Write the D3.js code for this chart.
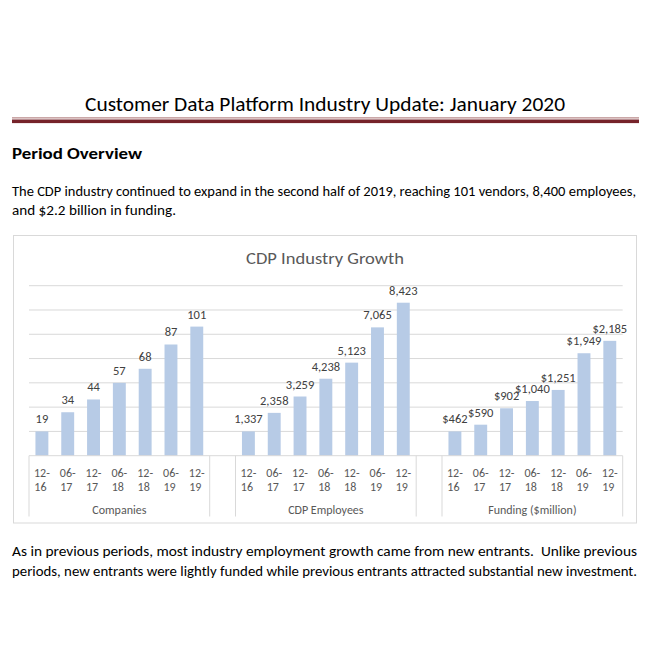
<!DOCTYPE html>
<html>
<head>
<meta charset="utf-8">
<script src="https://cdn.jsdelivr.net/npm/d3@7"></script>
<style>
  body { margin: 0; background: #fff; }
  svg { display: block; font-family: Carlito, Calibri, Lato, sans-serif; }
</style>
</head>
<body>
<figure style="margin:0"></figure>
<script>
// chart data
const groups = ["Companies", "CDP Employees", "Funding ($million)"];
const periods = ["12-16", "06-17", "12-17", "06-18", "12-18", "06-19", "12-19"];
const companies = [19, 34, 44, 57, 68, 87, 101];
const employees = [1337, 2358, 3259, 4238, 5123, 7065, 8423];
const funding = [462, 590, 902, 1040, 1251, 1949, 2185];
const gridTicks = [1, 2, 3, 4, 5, 6, 7];

// page text
const pageTitle = "Customer Data Platform Industry Update: January 2020";
const sectionTitle = "Period Overview";
const introLines = [
    "The CDP industry continued to expand in the second half of 2019, reaching 101 vendors, 8,400 employees,",
    "and $2.2 billion in funding."
];
const outroLines = [
    "As in previous periods, most industry employment growth came from new entrants.  Unlike previous",
    "periods, new entrants were lightly funded while previous entrants attracted substantial new investment."
];
const chartTitle = "CDP Industry Growth";

const width = 662, height = 662;

const svg = d3.select("figure")
    .append("svg")
    .attr("width", width)
    .attr("height", height)
    .attr("viewBox", "0 0 " + width + " " + height);

// ---- page heading and rules
svg.append("text")
    .attr("x", 85).attr("y", 110.5)
    .attr("textLength", 480).attr("lengthAdjust", "spacingAndGlyphs")
    .style("font-size", "20px")
    .attr("fill", "#000")
    .text(pageTitle);

svg.append("line")
    .attr("x1", 12).attr("x2", 639).attr("y1", 117.8).attr("y2", 117.8)
    .attr("stroke", "#b98a8a").attr("stroke-width", 1.2);
svg.append("rect")
    .attr("x", 12).attr("y", 119.5).attr("width", 627).attr("height", 3.6)
    .attr("fill", "#76232a");

svg.append("text")
    .attr("x", 12).attr("y", 158.5)
    .attr("textLength", 130).attr("lengthAdjust", "spacingAndGlyphs")
    .style("font-size", "16px").style("font-weight", "bold")
    .text(sectionTitle);

function para(lines, y0, lh, widths) {
    svg.append("g").selectAll("text")
        .data(lines)
        .enter()
        .append("text")
        .attr("x", 12)
        .attr("y", (d, i) => y0 + i * lh)
        .attr("textLength", (d, i) => widths[i])
        .attr("lengthAdjust", "spacingAndGlyphs")
        .style("font-size", "13.8px")
        .style("white-space", "pre")
        .attr("fill", "#000")
        .text(d => d);
}
para(introLines, 195.5, 19, [624, 164]);
para(outroLines, 556, 19.5, [625, 625]);

// ---- chart box
svg.append("rect")
    .attr("x", 13.5).attr("y", 235.5).attr("width", 623).attr("height", 287.5)
    .attr("fill", "#fff").attr("stroke", "#d9d9d9").attr("stroke-width", 1);

svg.append("text")
    .attr("x", 325).attr("y", 264)
    .attr("text-anchor", "middle")
    .attr("textLength", 158).attr("lengthAdjust", "spacingAndGlyphs")
    .style("font-size", "16.5px")
    .attr("fill", "#595959")
    .text(chartTitle);

// categories: 3 groups of 7 with one blank slot between groups (Excel multi-level axis)
const series = [companies, employees, funding];
const fmts = [d3.format(","), d3.format(","), v => "$" + d3.format(",")(v)];
const slots = [];
groups.forEach((g, gi) => {
    if (gi > 0) slots.push({ key: "gap" + gi, blank: true });
    periods.forEach((p, pi) => {
        const vals = series[gi];
        slots.push({
            key: g + "|" + p, group: gi, period: p,
            value: vals[pi],
            index: vals[pi] / vals[0], // plotted relative to first period
            label: fmts[gi](vals[pi])
        });
    });
});
const bars = slots.filter(d => !d.blank);

const plotLeft = 29, plotRight = 622.7, plotBase = 455.7, plotTop = 285.7;

const xScale = d3.scaleBand()
    .domain(slots.map(d => d.key))
    .range([plotLeft, plotRight])
    .paddingInner(0.5)
    .paddingOuter(0.25);
const step = xScale.step();

const yScale = d3.scaleLinear()
    .domain([0, 7])
    .range([plotBase, plotTop]);

// gridlines
svg.append("g")
    .selectAll("line")
    .data(gridTicks)
    .enter()
    .append("line")
    .attr("x1", plotLeft).attr("x2", plotRight)
    .attr("y1", d => yScale(d)).attr("y2", d => yScale(d))
    .attr("stroke", "#d9d9d9").attr("stroke-width", 1);

// bars
const barG = svg.append("g")
    .selectAll("g")
    .data(bars)
    .enter()
    .append("g")
    .attr("class", "bar")
    .attr("transform", d => "translate(" + xScale(d.key) + ",0)");

barG.append("rect")
    .attr("y", d => yScale(d.index))
    .attr("height", d => yScale(0) - yScale(d.index))
    .attr("width", xScale.bandwidth())
    .attr("fill", "#b7cbe6");

barG.append("text")
    .attr("x", xScale.bandwidth() / 2)
    .attr("y", d => yScale(d.index) - 8)
    .attr("text-anchor", "middle")
    .style("font-size", "12.5px")
    .attr("fill", "#404040")
    .text(d => d.label);

// x axis line and group separators
svg.append("line")
    .attr("x1", plotLeft).attr("x2", plotRight).attr("y1", plotBase).attr("y2", plotBase)
    .attr("stroke", "#d9d9d9");

const sepIdx = [0, 7, 8, 15, 16, 23];
svg.append("g")
    .selectAll("line")
    .data(sepIdx)
    .enter()
    .append("line")
    .attr("x1", d => plotLeft + d * step).attr("x2", d => plotLeft + d * step)
    .attr("y1", plotBase).attr("y2", 516.5)
    .attr("stroke", "#d9d9d9");

// category labels (two lines each)
const catG = svg.append("g")
    .selectAll("text")
    .data(bars)
    .enter()
    .append("text")
    .attr("text-anchor", "middle")
    .style("font-size", "12px")
    .attr("fill", "#595959");
catG.append("tspan")
    .attr("x", d => xScale(d.key) + xScale.bandwidth() / 2)
    .attr("y", 476.5)
    .text(d => d.period.slice(0, 3));
catG.append("tspan")
    .attr("x", d => xScale(d.key) + xScale.bandwidth() / 2 - 1.5)
    .attr("y", 490.5)
    .text(d => d.period.slice(3));

// group labels
svg.append("g")
    .selectAll("text")
    .data(groups)
    .enter()
    .append("text")
    .attr("x", (d, i) => plotLeft + (i * 8 + 3.5) * step)
    .attr("y", 513.5)
    .attr("text-anchor", "middle")
    .style("font-size", "12px")
    .attr("fill", "#595959")
    .text(d => d);
</script>
</body>
</html>
